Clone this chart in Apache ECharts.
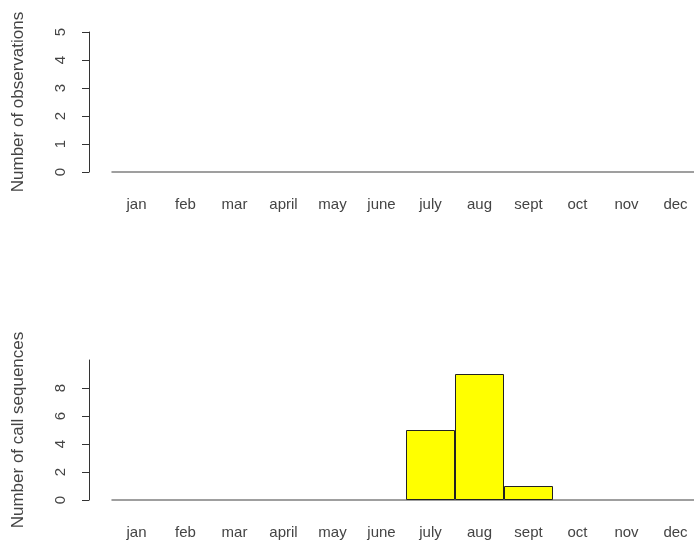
<!DOCTYPE html>
<html>
<head>
<meta charset="utf-8">
<script src="https://cdn.jsdelivr.net/npm/echarts@6/dist/echarts.min.js"></script>
<style>
html,body{margin:0;padding:0;background:#fff;}
#c{width:694px;height:541px;}
</style>
</head>
<body>
<div id="c"></div>
<script>
var months = ['jan','feb','mar','april','may','june','july','aug','sept','oct','nov','dec'];
var observations = [0,0,0,0,0,0,0,0,0,0,0,0];
var callSequences = [0,0,0,0,0,0,5,9,1,0,0,0];
var obsTicks = {min:0, max:5, interval:1};
var callTicks = {min:0, max:10, interval:2};

var FONT = 'Liberation Sans, Arial, sans-serif';
var txt = '#444';

function xAxis(gi){
  return {
    type:'category', gridIndex:gi, data:months,
    axisLine:{show:true, lineStyle:{color:'#808080', width:1.5}},
    axisTick:{show:false},
    axisLabel:{color:txt, fontSize:15, fontFamily:FONT, margin:25, interval:0}
  };
}
function yAxis(gi, name, t, showMax){
  return {
    type:'value', gridIndex:gi, min:t.min, max:t.max, interval:t.interval,
    offset:23,
    name:name, nameLocation:'middle', nameGap:62,
    nameTextStyle:{color:txt, fontSize:17, fontFamily:FONT},
    axisLine:{show:true, lineStyle:{color:'#333', width:1}},
    axisTick:{show:true, length:7, lineStyle:{color:'#333'}},
    axisLabel:{color:txt, fontSize:15, fontFamily:FONT, rotate:90, margin:21, showMaxLabel:showMax},
    splitLine:{show:false}
  };
}
function barData(arr){
  return arr.map(function(v){
    return v === 0 ? {value:v, itemStyle:{borderWidth:0}} : v;
  });
}

var chart = echarts.init(document.getElementById('c'));
chart.setOption({
  backgroundColor:'#fff',
  animation:false,
  grid:[
    {left:112, top:32, height:140, width:588, outerBoundsMode:'none', containLabel:false},
    {left:112, top:360, height:140, width:588, outerBoundsMode:'none', containLabel:false}
  ],
  xAxis:[xAxis(0), xAxis(1)],
  yAxis:[yAxis(0,'Number of observations',obsTicks,true), yAxis(1,'Number of call sequences',callTicks,false)],
  series:[
    {type:'bar', xAxisIndex:0, yAxisIndex:0, data:barData(observations), barCategoryGap:'0%',
     itemStyle:{color:'#ffff00', borderColor:'#222', borderWidth:1}},
    {type:'bar', xAxisIndex:1, yAxisIndex:1, data:barData(callSequences), barCategoryGap:'0%',
     itemStyle:{color:'#ffff00', borderColor:'#222', borderWidth:1}}
  ]
});
</script>
</body>
</html>
